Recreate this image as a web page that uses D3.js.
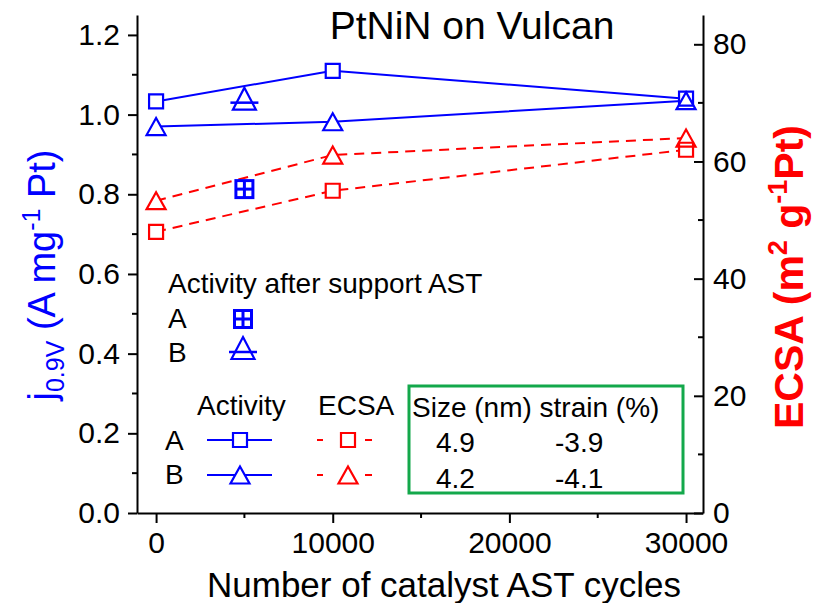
<!DOCTYPE html>
<html>
<head>
<meta charset="utf-8">
<script src="https://cdn.jsdelivr.net/npm/d3@7/dist/d3.min.js"></script>
<style>
  html, body { margin: 0; padding: 0; background: #fff; }
  svg { display: block; font-family: "Liberation Sans", Arial, sans-serif; }
</style>
</head>
<body>
<svg id="chart" width="814" height="603"></svg>
<script>
// Catalyst AST cycles and measured values
const cycles = [0, 10000, 30000];
const activityA = [1.033, 1.11, 1.04];
const activityB = [0.97, 0.982, 1.035];
const ecsaA = [48, 55, 62];
const ecsaB = [53.3, 61.1, 64];

// Activity after support AST
const supportCycles = [5000];
const supportA = [0.813];
const supportB = [1.04];

// Axis ticks
const xTicks = [0, 10000, 20000, 30000];
const xMinor = [5000, 15000, 25000];
const leftTicks = [0, 0.2, 0.4, 0.6, 0.8, 1.0, 1.2];
const leftMinor = [0.1, 0.3, 0.5, 0.7, 0.9, 1.1];
const rightTicks = [0, 20, 40, 60, 80];
const rightMinor = [10, 30, 50, 70];

// Particle size / strain table
const tableHeader = ["Size (nm)", "strain (%)"];
const sizeNm = ["4.9", "4.2"];
const strainPct = ["-3.9", "-4.1"];

const BLUE = "#0000ff", RED = "#ff0000", GREEN = "#13a84b";

const svg = d3.select("#chart");

const x = d3.scaleLinear().domain([-1080, 30960]).range([137, 703]);
const yL = d3.scaleLinear().domain([0, 1.25]).range([513, 15]);
const yR = d3.scaleLinear().domain([0, 85]).range([513, 15]);

// ----- axes -----
function styleAxis(g) {
  g.select(".domain").attr("stroke", "#000").attr("stroke-width", 2);
  g.selectAll(".tick line").attr("stroke", "#000").attr("stroke-width", 2);
  g.selectAll(".tick text").attr("font-size", 30).attr("fill", "#000")
    .attr("font-family", "'Liberation Sans', Arial, sans-serif");
}

const gx = svg.append("g").attr("transform", "translate(0,513)")
  .call(d3.axisBottom(x).tickValues(xTicks).tickFormat(d3.format("d"))
    .tickSize(10).tickSizeOuter(0).tickPadding(9));
styleAxis(gx);
gx.selectAll(".minor").data(xMinor).enter().append("line")
  .attr("x1", d => x(d)).attr("x2", d => x(d)).attr("y1", 0).attr("y2", 5)
  .attr("stroke", "#000").attr("stroke-width", 2);

const gl = svg.append("g").attr("transform", "translate(137,0)")
  .call(d3.axisLeft(yL).tickValues(leftTicks).tickFormat(d3.format(".1f"))
    .tickSize(9).tickSizeOuter(0).tickPadding(8));
styleAxis(gl);
gl.selectAll(".minor").data(leftMinor).enter().append("line")
  .attr("x1", -5).attr("x2", 0).attr("y1", d => yL(d)).attr("y2", d => yL(d))
  .attr("stroke", "#000").attr("stroke-width", 2);

const gr = svg.append("g").attr("transform", "translate(703,0)")
  .call(d3.axisRight(yR).tickValues(rightTicks).tickFormat(d3.format("d"))
    .tickSize(-9).tickSizeOuter(0).tickPadding(10));
styleAxis(gr);
gr.selectAll(".minor").data(rightMinor).enter().append("line")
  .attr("x1", -5).attr("x2", 0).attr("y1", d => yR(d)).attr("y2", d => yR(d))
  .attr("stroke", "#000").attr("stroke-width", 2);

// ----- symbols (drawn in two passes: white fill, then outline) -----
function squarePath(cx, cy, s) {
  s = s || 14;
  return `M${cx - s / 2},${cy - s / 2}h${s}v${s}h${-s}Z`;
}
function trianglePath(cx, cy, w, h) {
  w = w || 19; h = h || 17;
  return `M${cx},${cy - h / 2}L${cx + w / 2},${cy + h / 2}L${cx - w / 2},${cy + h / 2}Z`;
}
function hollow(g, d, color, pass) {
  const p = g.append("path").attr("d", d).attr("stroke-linejoin", "miter");
  if (pass === "fill") p.attr("fill", "#fff").attr("stroke", "none");
  else p.attr("fill", "none").attr("stroke", color).attr("stroke-width", 2.2);
}
function square(g, cx, cy, color, pass) {
  if (!pass || pass === "fill") hollow(g, squarePath(cx, cy), color, "fill");
  if (!pass || pass === "stroke") hollow(g, squarePath(cx, cy), color, "stroke");
}
function triangle(g, cx, cy, color, pass, w, h) {
  if (!pass || pass === "fill") hollow(g, trianglePath(cx, cy, w, h), color, "fill");
  if (!pass || pass === "stroke") hollow(g, trianglePath(cx, cy, w, h), color, "stroke");
}
function crossedSquare(g, cx, cy, color) {
  const s = 17;
  g.append("rect").attr("x", cx - s / 2).attr("y", cy - s / 2)
    .attr("width", s).attr("height", s)
    .attr("fill", "#fff").attr("stroke", color).attr("stroke-width", 3);
  g.append("line").attr("x1", cx - s / 2).attr("x2", cx + s / 2).attr("y1", cy).attr("y2", cy)
    .attr("stroke", color).attr("stroke-width", 3);
  g.append("line").attr("x1", cx).attr("x2", cx).attr("y1", cy - s / 2).attr("y2", cy + s / 2)
    .attr("stroke", color).attr("stroke-width", 3);
}
function barTriangle(g, cx, cy, color) {
  triangle(g, cx, cy, color, null, 23, 22);
  g.append("line").attr("x1", cx - 14).attr("x2", cx + 14).attr("y1", cy + 4).attr("y2", cy + 4)
    .attr("stroke", color).attr("stroke-width", 2.5);
}

// ----- series lines -----
const plot = svg.append("g");
function seriesLine(vals, yScale, color, dashed) {
  const line = d3.line().x((d, i) => x(cycles[i])).y(d => yScale(d));
  plot.append("path").datum(vals).attr("d", line)
    .attr("fill", "none").attr("stroke", color).attr("stroke-width", 2)
    .attr("stroke-dasharray", dashed ? "10,7" : null);
}
seriesLine(ecsaA, yR, RED, true);
seriesLine(ecsaB, yR, RED, true);
seriesLine(activityA, yL, BLUE, false);
seriesLine(activityB, yL, BLUE, false);

["fill", "stroke"].forEach(pass => {
  ecsaA.forEach((v, i) => square(plot, x(cycles[i]), yR(v), RED, pass));
  ecsaB.forEach((v, i) => triangle(plot, x(cycles[i]), yR(v), RED, pass));
  activityA.forEach((v, i) => square(plot, x(cycles[i]), yL(v), BLUE, pass));
  activityB.forEach((v, i) => triangle(plot, x(cycles[i]), yL(v), BLUE, pass));
});
supportA.forEach((v, i) => crossedSquare(plot, x(supportCycles[i]), yL(v), BLUE));
supportB.forEach((v, i) => barTriangle(plot, x(supportCycles[i]), yL(v), BLUE));

// ----- title and axis titles -----
svg.append("text").attr("x", 472).attr("y", 39).attr("text-anchor", "middle")
  .attr("font-size", 39).attr("fill", "#000").text("PtNiN on Vulcan");

svg.append("text").attr("x", 444).attr("y", 597).attr("text-anchor", "middle")
  .attr("font-size", 35).attr("fill", "#000").text("Number of catalyst AST cycles");

const ylab = svg.append("text").attr("transform", "translate(55,275) rotate(-90)")
  .attr("text-anchor", "middle").attr("font-size", 38).attr("fill", BLUE);
ylab.append("tspan").text("j");
ylab.append("tspan").attr("font-size", 25).attr("dy", 9).text("0.9V");
ylab.append("tspan").attr("dy", -9).text(" (A mg");
ylab.append("tspan").attr("font-size", 25).attr("dy", -15).text("-1");
ylab.append("tspan").attr("dy", 15).text(" Pt)");

const rlab = svg.append("text").attr("transform", "translate(803,277) rotate(-90)")
  .attr("text-anchor", "middle").attr("font-size", 41).attr("font-weight", "bold").attr("fill", RED);
rlab.append("tspan").text("ECSA (m");
rlab.append("tspan").attr("font-size", 27).attr("dy", -16).text("2");
rlab.append("tspan").attr("dy", 16).text(" g");
rlab.append("tspan").attr("font-size", 27).attr("dy", -16).text("-1");
rlab.append("tspan").attr("dy", 16).text("Pt)");

// ----- legend: support AST -----
const leg = svg.append("g").attr("font-size", 28).attr("fill", "#000");
leg.append("text").attr("x", 168).attr("y", 293).text("Activity after support AST");
leg.append("text").attr("x", 168).attr("y", 328).text("A");
leg.append("text").attr("x", 168).attr("y", 362).text("B");
crossedSquare(leg, 243, 319, BLUE);
barTriangle(leg, 243, 348, BLUE);

// ----- legend: activity / ECSA -----
leg.append("text").attr("x", 197).attr("y", 415).text("Activity");
leg.append("text").attr("x", 318).attr("y", 415).text("ECSA");
leg.append("text").attr("x", 165).attr("y", 450).text("A");
leg.append("text").attr("x", 165).attr("y", 484).text("B");

[[440, "sq"], [475, "tri"]].forEach(([yy, kind]) => {
  leg.append("line").attr("x1", 207).attr("x2", 272).attr("y1", yy).attr("y2", yy)
    .attr("stroke", BLUE).attr("stroke-width", 2);
  if (kind === "sq") square(leg, 240, yy, BLUE); else triangle(leg, 240, yy, BLUE);
  [[317, 323], [365, 372]].forEach(([a, b]) => {
    leg.append("line").attr("x1", a).attr("x2", b).attr("y1", yy).attr("y2", yy)
      .attr("stroke", RED).attr("stroke-width", 2);
  });
  if (kind === "sq") square(leg, 348, yy, RED); else triangle(leg, 348, yy, RED);
});

// ----- size / strain table -----
const tbl = svg.append("g").attr("font-size", 28).attr("fill", "#000");
tbl.append("rect").attr("x", 409).attr("y", 386).attr("width", 274).attr("height", 107)
  .attr("fill", "none").attr("stroke", GREEN).attr("stroke-width", 3);
tbl.append("text").attr("x", 412).attr("y", 417).text(tableHeader.join(" "));
sizeNm.forEach((s, i) => {
  tbl.append("text").attr("x", 436).attr("y", 452 + i * 35.5).text(s);
  tbl.append("text").attr("x", 555).attr("y", 452 + i * 35.5).text(strainPct[i]);
});
</script>
</body>
</html>
